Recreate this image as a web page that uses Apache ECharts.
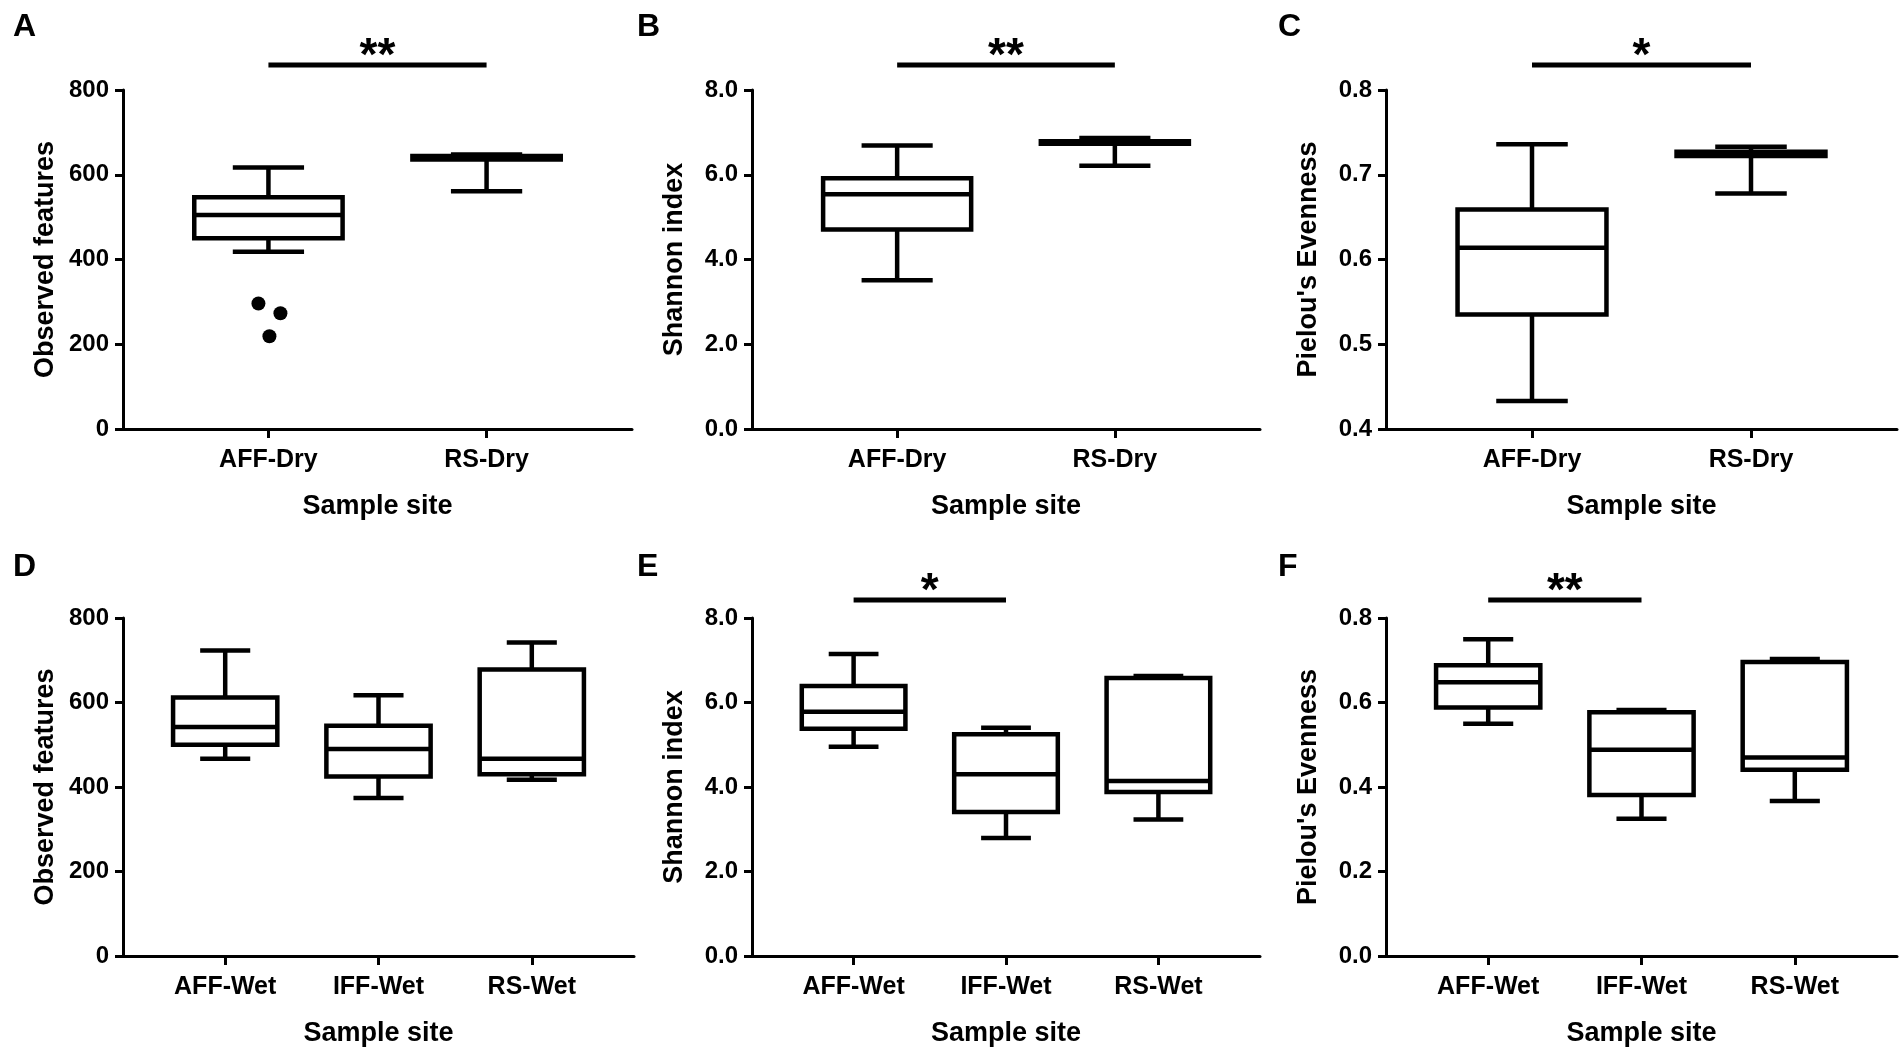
<!DOCTYPE html>
<html>
<head>
<meta charset="utf-8">
<title>Alpha diversity by sample site</title>
<script src="https://cdn.jsdelivr.net/npm/echarts@6/dist/echarts.min.js"></script>
<style>
  html, body { margin: 0; padding: 0; background: #fff; }
  #chart { width: 1904px; height: 1050px; }
</style>
</head>
<body>
<div id="chart"></div>
<script>
// categories
var dryCats = ["AFF-Dry", "RS-Dry"];
var wetCats = ["AFF-Wet", "IFF-Wet", "RS-Wet"];

// box values per group: [min, Q1, median, Q3, max]
var featuresDry = [[418, 450, 505, 547, 617], [561, 636, 640, 644, 648]];
var featuresDryOutliers = [296, 273, 219]; // AFF-Dry
var shannonDry = [[3.51, 4.71, 5.54, 5.92, 6.69], [6.21, 6.73, 6.75, 6.79, 6.87]];
var pielouDry = [[0.433, 0.535, 0.614, 0.659, 0.736], [0.678, 0.722, 0.724, 0.727, 0.733]];

var featuresWet = [[467, 500, 542, 612, 723], [374, 425, 490, 545, 617], [417, 430, 467, 678, 742]];
var shannonWet = [[4.95, 5.38, 5.78, 6.39, 7.15], [2.79, 3.41, 4.30, 5.25, 5.40], [3.23, 3.88, 4.14, 6.58, 6.63]];
var pielouWet = [[0.550, 0.588, 0.648, 0.688, 0.750], [0.325, 0.381, 0.488, 0.577, 0.582], [0.367, 0.441, 0.470, 0.696, 0.703]];

// y-axis ticks
var featureTicks = [0, 200, 400, 600, 800];
var shannonTicks = [0, 2, 4, 6, 8];
var pielouDryTicks = [0.4, 0.5, 0.6, 0.7, 0.8];
var pielouWetTicks = [0, 0.2, 0.4, 0.6, 0.8];

// significance brackets: [group a, group b, label]
var sigA = ["AFF-Dry", "RS-Dry", "**"];
var sigB = ["AFF-Dry", "RS-Dry", "**"];
var sigC = ["AFF-Dry", "RS-Dry", "*"];
var sigE = ["AFF-Wet", "IFF-Wet", "*"];
var sigF = ["AFF-Wet", "IFF-Wet", "**"];

// ---- layout / style ----
var FONT = '"Liberation Sans", Arial, Helvetica, sans-serif';
var LW = 4.5;
var dryLayout = { slots: 8, pos: [2, 5], sigGap: 25 };
var wetLayout = { slots: 11, pos: [2, 5, 8], sigGap: 18 };
var outlierJitter = [-10, 12, 1];

var panels = [
    { letter: "A", grid: { left: 123, top: 90, width: 509, height: 339 }, cats: dryCats, layout: dryLayout, boxes: featuresDry, ticks: featureTicks, digits: 0, yName: "Observed features", sig: sigA },
    { letter: "B", grid: { left: 752, top: 90, width: 508, height: 339 }, cats: dryCats, layout: dryLayout, boxes: shannonDry, ticks: shannonTicks, digits: 1, yName: "Shannon index", sig: sigB },
    { letter: "C", grid: { left: 1386, top: 90, width: 511, height: 339 }, cats: dryCats, layout: dryLayout, boxes: pielouDry, ticks: pielouDryTicks, digits: 1, yName: "Pielou's Evenness", sig: sigC },
    { letter: "D", grid: { left: 123, top: 618, width: 511, height: 338 }, cats: wetCats, layout: wetLayout, boxes: featuresWet, ticks: featureTicks, digits: 0, yName: "Observed features", sig: null },
    { letter: "E", grid: { left: 752, top: 618, width: 508, height: 338 }, cats: wetCats, layout: wetLayout, boxes: shannonWet, ticks: shannonTicks, digits: 1, yName: "Shannon index", sig: sigE },
    { letter: "F", grid: { left: 1386, top: 618, width: 511, height: 338 }, cats: wetCats, layout: wetLayout, boxes: pielouWet, ticks: pielouWetTicks, digits: 1, yName: "Pielou's Evenness", sig: sigF }
];

function paddedAxis(cats, layout) {
    var a = [];
    for (var i = 0; i < layout.slots; i++) a.push("");
    cats.forEach(function (c, i) { a[layout.pos[i]] = c; });
    return a;
}

function line(x1, y1, x2, y2, w) {
    return { type: "line", shape: { x1: x1, y1: y1, x2: x2, y2: y2 }, style: { stroke: "#000", lineWidth: w || LW } };
}

function renderBox(params, api) {
    var x = api.value(0);
    var yMin = api.coord([x, api.value(1)])[1];
    var yQ1 = api.coord([x, api.value(2)])[1];
    var yMed = api.coord([x, api.value(3)])[1];
    var yQ3 = api.coord([x, api.value(4)])[1];
    var yMax = api.coord([x, api.value(5)])[1];
    var cx = api.coord([x, api.value(3)])[0];
    var band = cx - api.coord([x - 1, api.value(3)])[0];
    var hw = band * 1.02, cw = band * 0.49;
    return {
        type: "group",
        children: [
            line(cx, yQ3, cx, yMax),
            line(cx - cw, yMax, cx + cw, yMax),
            line(cx, yQ1, cx, yMin),
            line(cx - cw, yMin, cx + cw, yMin),
            { type: "rect", shape: { x: cx - hw, y: yQ3, width: hw * 2, height: yQ1 - yQ3 },
              style: { fill: "#fff", stroke: "#000", lineWidth: LW } },
            line(cx - hw, yMed, cx + hw, yMed)
        ]
    };
}

function makeSigRender(gap, label) {
    return function (params, api) {
        var p1 = api.coord([api.value(0), api.value(2)]);
        var p2 = api.coord([api.value(1), api.value(2)]);
        var y = p1[1] - gap;
        return {
            type: "group",
            children: [
                line(p1[0], y, p2[0], y, 5),
                { type: "text", style: { text: label, x: (p1[0] + p2[0]) / 2, y: y - 8,
                  fill: "#000", font: "bold 46px " + FONT, align: "center", verticalAlign: "middle" } }
            ]
        };
    };
}

var textStyle = { color: "#000", fontFamily: FONT, fontWeight: "bold" };
var option = { animation: false, backgroundColor: "#fff", grid: [], xAxis: [], yAxis: [], series: [], graphic: [] };

panels.forEach(function (p, i) {
    var axisCats = paddedAxis(p.cats, p.layout);
    var ticks = p.ticks;
    option.grid.push(p.grid);
    option.xAxis.push({
        type: "category", gridIndex: i, data: axisCats, boundaryGap: false,
        axisLine: { onZero: false, lineStyle: { color: "#000", width: 3 } },
        axisTick: { length: 9, lineStyle: { color: "#000", width: 3 }, interval: function (idx, val) { return val !== ""; } },
        axisLabel: Object.assign({ interval: 0, fontSize: 25, margin: 19 }, textStyle),
        splitLine: { show: false },
        name: "Sample site", nameLocation: "middle", nameGap: 64,
        nameTextStyle: Object.assign({ fontSize: 27 }, textStyle)
    });
    option.yAxis.push({
        type: "value", gridIndex: i, min: ticks[0], max: ticks[ticks.length - 1],
        interval: +(ticks[1] - ticks[0]).toFixed(6),
        axisLine: { show: true, lineStyle: { color: "#000", width: 3 } },
        axisTick: { show: true, length: 8, lineStyle: { color: "#000", width: 3 } },
        axisLabel: Object.assign({ fontSize: 24, margin: 14, formatter: (function (d) { return function (v) { return v.toFixed(d); }; })(p.digits) }, textStyle),
        splitLine: { show: false },
        name: p.yName, nameLocation: "middle", nameGap: 64,
        nameTextStyle: Object.assign({ fontSize: 27 }, textStyle)
    });
    option.series.push({
        type: "custom", xAxisIndex: i, yAxisIndex: i, clip: false,
        renderItem: renderBox,
        encode: { x: 0, y: [1, 2, 3, 4, 5] },
        data: p.boxes.map(function (b, k) { return [p.layout.pos[k]].concat(b); })
    });
    if (p.sig) {
        option.series.push({
            type: "custom", xAxisIndex: i, yAxisIndex: i, clip: false,
            renderItem: makeSigRender(p.layout.sigGap, p.sig[2]),
            encode: { x: [0, 1], y: 2 },
            data: [[axisCats.indexOf(p.sig[0]), axisCats.indexOf(p.sig[1]), ticks[ticks.length - 1]]]
        });
    }
    option.graphic.push({
        type: "text", left: i % 3 === 0 ? 13 : (i % 3 === 1 ? 637 : 1278), top: i < 3 ? 11 : 551,
        style: { text: p.letter, font: "bold 32px " + FONT, fill: "#000" }
    });
});

// outliers of AFF-Dry in panel A
option.series.push({
    type: "scatter", xAxisIndex: 0, yAxisIndex: 0, symbol: "circle", symbolSize: 14,
    itemStyle: { color: "#000", opacity: 1 },
    data: featuresDryOutliers.map(function (v, k) {
        return { value: [dryLayout.pos[0], v], symbolOffset: [outlierJitter[k], 0] };
    })
});

var chart = echarts.init(document.getElementById("chart"));
chart.setOption(option);
</script>
</body>
</html>
